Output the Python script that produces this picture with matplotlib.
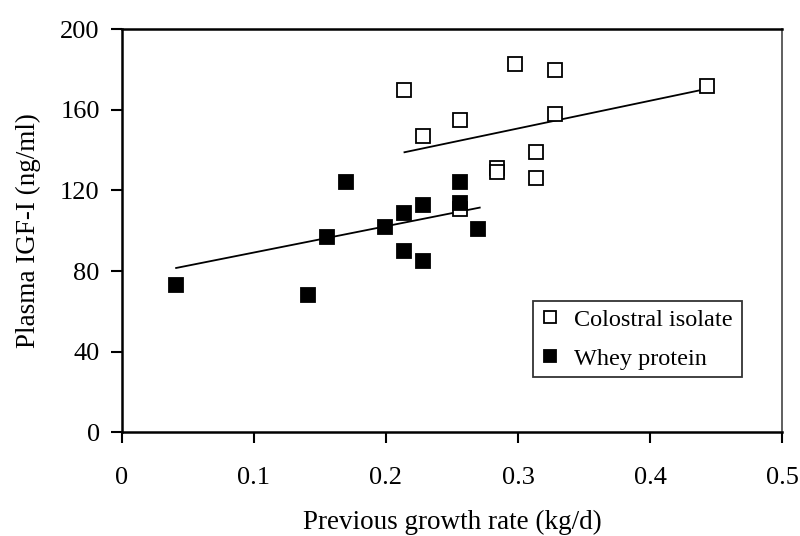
import numpy as np
import matplotlib.pyplot as plt

plt.rcParams['font.family'] = ['Liberation Serif', 'DejaVu Serif']

# Colostral isolate (open squares)
col_x = [0.214, 0.228, 0.256, 0.298, 0.328, 0.328, 0.314, 0.314, 0.284, 0.284, 0.256, 0.443]
col_y = [170, 147, 155, 183, 180, 158, 139, 126, 131, 129, 111, 172]
# Whey protein (filled squares)
whey_x = [0.041, 0.141, 0.170, 0.155, 0.199, 0.214, 0.214, 0.228, 0.228, 0.256, 0.256, 0.270]
whey_y = [73, 68, 124, 97, 102, 109, 90, 113, 85, 124, 114, 101]

# trend lines (end points)
col_line_x = [0.214, 0.443]
col_line_y = [139, 170.5]
whey_line_x = [0.041, 0.271]
whey_line_y = [81.5, 111.5]

fig = plt.figure(figsize=(8, 5.36), dpi=100)
ax = fig.add_axes([0.1525, 0.194, 0.825, 0.751])

ax.plot(col_line_x, col_line_y, color='black', lw=1.3, zorder=1)
ax.plot(whey_line_x, whey_line_y, color='black', lw=1.3, zorder=1)
ax.plot(col_x, col_y, 's', ms=10, mfc='white', mec='black', mew=1.3,
        ls='none', label='Colostral isolate', zorder=2)
ax.plot(whey_x, whey_y, 's', ms=10, mfc='black', mec='black', mew=1.3,
        ls='none', label='Whey protein', zorder=3)

ax.set_xlim(0, 0.5)
ax.set_ylim(0, 200)
ax.set_xticks([0, 0.1, 0.2, 0.3, 0.4, 0.5])
ax.set_xticklabels(['0', '0.1', '0.2', '0.3', '0.4', '0.5'])
ax.set_yticks([0, 40, 80, 120, 160, 200])
ax.tick_params(direction='out', length=8, width=1.5, labelsize=19)
ax.tick_params(axis='x', pad=17)
ax.tick_params(axis='y', pad=8)

for s in ['left', 'bottom', 'top']:
    ax.spines[s].set_linewidth(1.8)
ax.spines['right'].set_linewidth(1.2)
ax.spines['right'].set_color('#444444')

ax.set_xlabel('Previous growth rate (kg/d)', fontsize=19.5, labelpad=15)
ax.set_ylabel('Plasma IGF-I (ng/ml)', fontsize=19.5, labelpad=14)

leg = ax.legend(loc='lower left', bbox_to_anchor=(0.623, 0.137, 0.317, 0.194),
                mode='expand', borderaxespad=0, fontsize=17.5, frameon=True,
                fancybox=False, edgecolor='black', handlelength=0.8,
                handletextpad=0.6, labelspacing=0.7, borderpad=0.3,
                markerscale=0.9)
leg.get_frame().set_linewidth(1.3)

fig.savefig('out.png', dpi=100)
